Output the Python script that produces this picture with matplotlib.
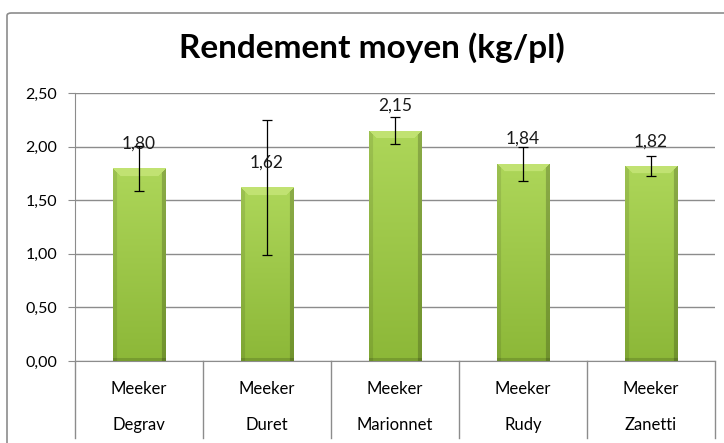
import numpy as np
import matplotlib
matplotlib.use("Agg")
import matplotlib.pyplot as plt
from matplotlib.patches import FancyBboxPatch
from matplotlib.transforms import blended_transform_factory

# data
producers = ["Degrav", "Duret", "Marionnet", "Rudy", "Zanetti"]
variety = ["Meeker", "Meeker", "Meeker", "Meeker", "Meeker"]
rendement = [1.80, 1.62, 2.15, 1.84, 1.82]
ecart = [0.21, 0.63, 0.13, 0.16, 0.09]
y_ticks = [0.0, 0.5, 1.0, 1.5, 2.0, 2.5]

plt.rcParams['font.family'] = ['Lato', 'DejaVu Sans']
grey = "#8c8c8c"

W, H = 724, 443
fig = plt.figure(figsize=(W / 100, H / 100), dpi=100)

# chart border (right and bottom sides fall outside the picture)
fig.patches.append(FancyBboxPatch((7 / W, -0.05), 1.0, 1 - 13 / H + 0.05,
                                  boxstyle="round,pad=0,rounding_size=0.006",
                                  transform=fig.transFigure, fill=False,
                                  ec=grey, lw=1.2))

ax = fig.add_axes([75 / W, 1 - 361 / H, 640 / W, 268 / H])
x = np.arange(len(producers))
ax.set_xlim(-0.5, len(producers) - 0.5)
ax.set_ylim(0, 2.5)

bars = ax.bar(x, rendement, width=0.41, color="#9cc446", zorder=2)


def shade(h_px, w_px):
    yy = np.linspace(0, 1, h_px)[:, None]
    xx = np.arange(w_px)[None, :]
    top = np.array([0.68, 0.84, 0.35])
    bot = np.array([0.55, 0.72, 0.22])
    img = top * (1 - yy[..., None]) + bot * yy[..., None]
    img = np.broadcast_to(img, (h_px, w_px, 3)).copy()
    rows = np.arange(h_px)[:, None]
    # side bevels
    left = np.broadcast_to(xx < 4, (h_px, w_px))
    right = np.broadcast_to(xx >= w_px - 4, (h_px, w_px))
    img[left] *= 0.9
    img[right] *= 0.8
    # top bevel
    bevel = (rows < 8) & (xx >= rows) & (xx < w_px - rows)
    img[bevel] = np.array([0.76, 0.89, 0.45])
    # bottom shade
    img[rows[:, 0] >= h_px - 3] *= 0.85
    return np.clip(img, 0, 1)


for b in bars:
    h_px = max(int(b.get_height() * 107), 10)
    img = shade(h_px, 52)
    im = ax.imshow(img, extent=[b.get_x(), b.get_x() + b.get_width(), 0, b.get_height()],
                   aspect="auto", zorder=3, interpolation="bilinear")
    im.set_clip_path(b)

ax.errorbar(x, rendement, yerr=ecart, fmt="none", ecolor="black",
            elinewidth=0.9, capsize=3.5, capthick=0.9, zorder=4)

for xi, v in zip(x, rendement):
    ax.annotate(f"{v:.2f}".replace(".", ","), (xi, v), xytext=(0, 12),
                textcoords="offset points", ha="center", va="bottom",
                fontsize=12.5, color="#1a1a1a", zorder=5)

ax.set_yticks(y_ticks)
ax.set_yticklabels([f"{t:.2f}".replace(".", ",") for t in y_ticks], fontsize=11.5)
ax.yaxis.grid(True, color=grey, lw=1)
ax.set_axisbelow(True)
ax.tick_params(axis="y", length=5, color=grey, pad=8)
ax.set_xticks([])
for s in ["top", "right"]:
    ax.spines[s].set_visible(False)
ax.spines["left"].set_color(grey)
ax.spines["bottom"].set_color(grey)

trans = blended_transform_factory(ax.transData, ax.transAxes)
for xi, v, p in zip(x, variety, producers):
    ax.text(xi, -0.105, v, transform=trans, ha="center", va="center", fontsize=12)
    ax.text(xi, -0.24, p, transform=trans, ha="center", va="center", fontsize=12)
for edge in np.arange(len(producers) + 1) - 0.5:
    ax.plot([edge, edge], [0, -0.287], transform=trans, color=grey, lw=1, clip_on=False)

fig.text(372 / W, 1 - 48 / H, "Rendement moyen (kg/pl)", ha="center",
         va="center", fontsize=24, fontweight="bold")

fig.savefig("out.png", dpi=100)
